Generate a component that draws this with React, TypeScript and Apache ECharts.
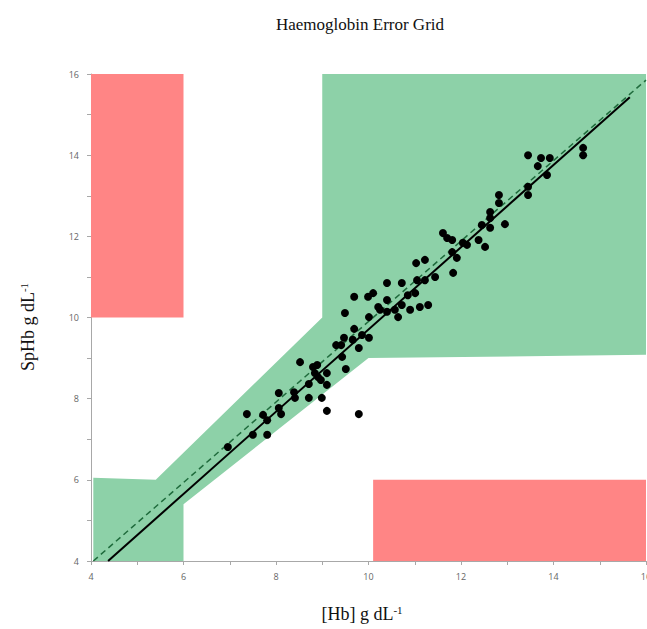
import React, { useEffect, useRef } from "react";
import * as echarts from "echarts";

// Axis ticks
const axisMin = 4;
const axisMax = 16;
const axisStep = 2;

// Error grid zones (polygon vertices in data units)
const greenZoneX = [4.05, 4.05, 5.4, 9, 9, 16, 16, 10, 6, 6];
const greenZoneY = [4, 6.05, 6, 10, 16, 16, 9.08, 9, 5.4, 4];
const redTopX = [4, 4, 6, 6];
const redTopY = [10, 16, 16, 10];
const redBottomX = [10.1, 10.1, 16, 16];
const redBottomY = [4, 6, 6, 4];

// Lines
const identityX = [4.05, 16];
const identityY = [4, 15.85];
const regressionX = [4.37, 15.65];
const regressionY = [4, 15.43];

// Measurements: [Hb] (x) and SpHb (y)
const hbValues = [
  6.96, 7.37, 7.5, 7.72, 7.81, 7.81, 8.06, 8.06, 8.11, 8.39, 8.41, 8.52, 8.71, 8.71,
  8.8, 8.84, 8.89, 8.91, 8.97, 8.99, 9.1, 9.1, 9.1, 9.3, 9.41, 9.43, 9.47, 9.51, 9.66,
  9.79, 9.79, 9.86, 9.49, 9.69, 9.69, 10.01, 10.01, 9.99, 10.1, 10.21, 10.25, 10.4,
  10.4, 10.4, 10.57, 10.64, 10.72, 10.72, 10.85, 10.9, 11.01, 11.05, 11.03, 11.11,
  11.22, 11.22, 11.29, 11.44, 11.81, 11.83, 11.91, 11.61, 11.7, 11.81, 12.04, 12.13,
  12.38, 12.45, 12.52, 12.63, 12.63, 12.63, 12.82, 12.82, 12.95, 13.45, 13.45, 13.45,
  13.66, 13.73, 13.86, 13.92, 14.64, 14.64,
];
const sphbValues = [
  6.81, 7.62, 7.11, 7.6, 7.47, 7.11, 8.14, 7.77, 7.62, 8.16, 8.02, 8.9, 8.02, 8.36,
  8.78, 8.63, 8.83, 8.53, 8.46, 8.02, 8.63, 8.34, 7.7, 9.32, 9.32, 9.03, 9.5, 8.73, 9.45,
  9.25, 7.62, 9.57, 10.11, 9.72, 10.51, 9.5, 10.01, 10.51, 10.6, 10.26, 10.19, 10.85,
  10.43, 10.14, 10.19, 10.01, 10.85, 10.31, 10.55, 10.19, 10.6, 10.92, 11.34, 10.26,
  11.42, 10.92, 10.31, 11.0, 11.61, 11.1, 11.47, 12.08, 11.96, 11.91, 11.84, 11.79,
  11.91, 12.28, 11.74, 12.21, 12.6, 12.45, 13.02, 12.82, 12.3, 14.0, 13.22, 13.02,
  13.73, 13.93, 13.51, 13.93, 14.18, 14.0,
];

const zones = [
  { xs: greenZoneX, ys: greenZoneY, color: "#8dd1a8" },
  { xs: redTopX, ys: redTopY, color: "#ff8585" },
  { xs: redBottomX, ys: redBottomY, color: "#ff8585" },
];

export default function App() {
  const ref = useRef<HTMLDivElement>(null);

  useEffect(() => {
    if (!ref.current) return;
    const chart = echarts.init(ref.current, undefined, { renderer: "svg" });
    const axisCommon = {
      type: "value" as const,
      min: axisMin,
      max: axisMax,
      interval: axisStep,
      axisLine: { show: true, lineStyle: { color: "#a8a8a8", width: 1 } },
      axisTick: { show: true, length: 4, lineStyle: { color: "#a8a8a8" } },
      minorTick: { show: true, splitNumber: 2, length: 4, lineStyle: { color: "#a8a8a8" } },
      splitLine: { show: false },
      axisLabel: { color: "#666", fontSize: 9, fontFamily: "Open Sans" },
    };
    chart.setOption({
      animation: false,
      grid: { left: 91, right: 1, top: 74, bottom: 68, containLabel: false, outerBoundsMode: "none" },
      xAxis: { ...axisCommon, axisLabel: { ...axisCommon.axisLabel, margin: 11 } },
      yAxis: { ...axisCommon, axisLabel: { ...axisCommon.axisLabel, margin: 12 } },
      graphic: [
        {
          type: "text",
          x: 360,
          y: 24,
          style: {
            text: "Haemoglobin Error Grid",
            font: "17px 'Liberation Serif'",
            fill: "#111",
            textAlign: "center",
            textVerticalAlign: "middle",
          },
        },
        {
          type: "text",
          x: 362,
          y: 614,
          style: {
            text: "{a|[Hb] g dL}{s|-1}",
            textAlign: "center",
            textVerticalAlign: "middle",
            rich: {
              a: { font: "18px 'Liberation Serif'", fill: "#111" },
              s: { font: "11px 'Liberation Serif'", fill: "#111", padding: [0, 0, 9, 0] },
            },
          },
        },
        {
          type: "text",
          x: 28,
          y: 327,
          rotation: Math.PI / 2,
          style: {
            text: "{a|SpHb g dL}{s|-1}",
            textAlign: "center",
            textVerticalAlign: "middle",
            rich: {
              a: { font: "18px 'Liberation Serif'", fill: "#111" },
              s: { font: "11px 'Liberation Serif'", fill: "#111", padding: [0, 0, 9, 0] },
            },
          },
        },
      ],
      series: [
        {
          type: "custom",
          coordinateSystem: "cartesian2d",
          silent: true,
          z: 1,
          data: zones.map((z) => [z.xs[0], z.ys[0]]),
          renderItem: (params: any, api: any) => {
            const zone = zones[params.dataIndex];
            const pts = zone.xs.map((x, i) => api.coord([x, zone.ys[i]]));
            return { type: "polygon", shape: { points: pts }, style: { fill: zone.color } };
          },
        },
        {
          type: "line",
          z: 3,
          symbol: "none",
          data: identityX.map((x, i) => [x, identityY[i]]),
          lineStyle: { color: "#1f6b3c", width: 1.5, type: [6, 4] },
        },
        {
          type: "line",
          z: 3,
          symbol: "none",
          data: regressionX.map((x, i) => [x, regressionY[i]]),
          lineStyle: { color: "#000", width: 2 },
        },
        {
          type: "scatter",
          z: 4,
          symbolSize: 8,
          itemStyle: { color: "#000", opacity: 1 },
          data: hbValues.map((x, i) => [x, sphbValues[i]]),
        },
      ],
    });
    return () => chart.dispose();
  }, []);

  return (
    <div
      ref={ref}
      style={{ position: "fixed", left: 0, top: 0, width: 647, height: 629, background: "#fff" }}
    />
  );
}
